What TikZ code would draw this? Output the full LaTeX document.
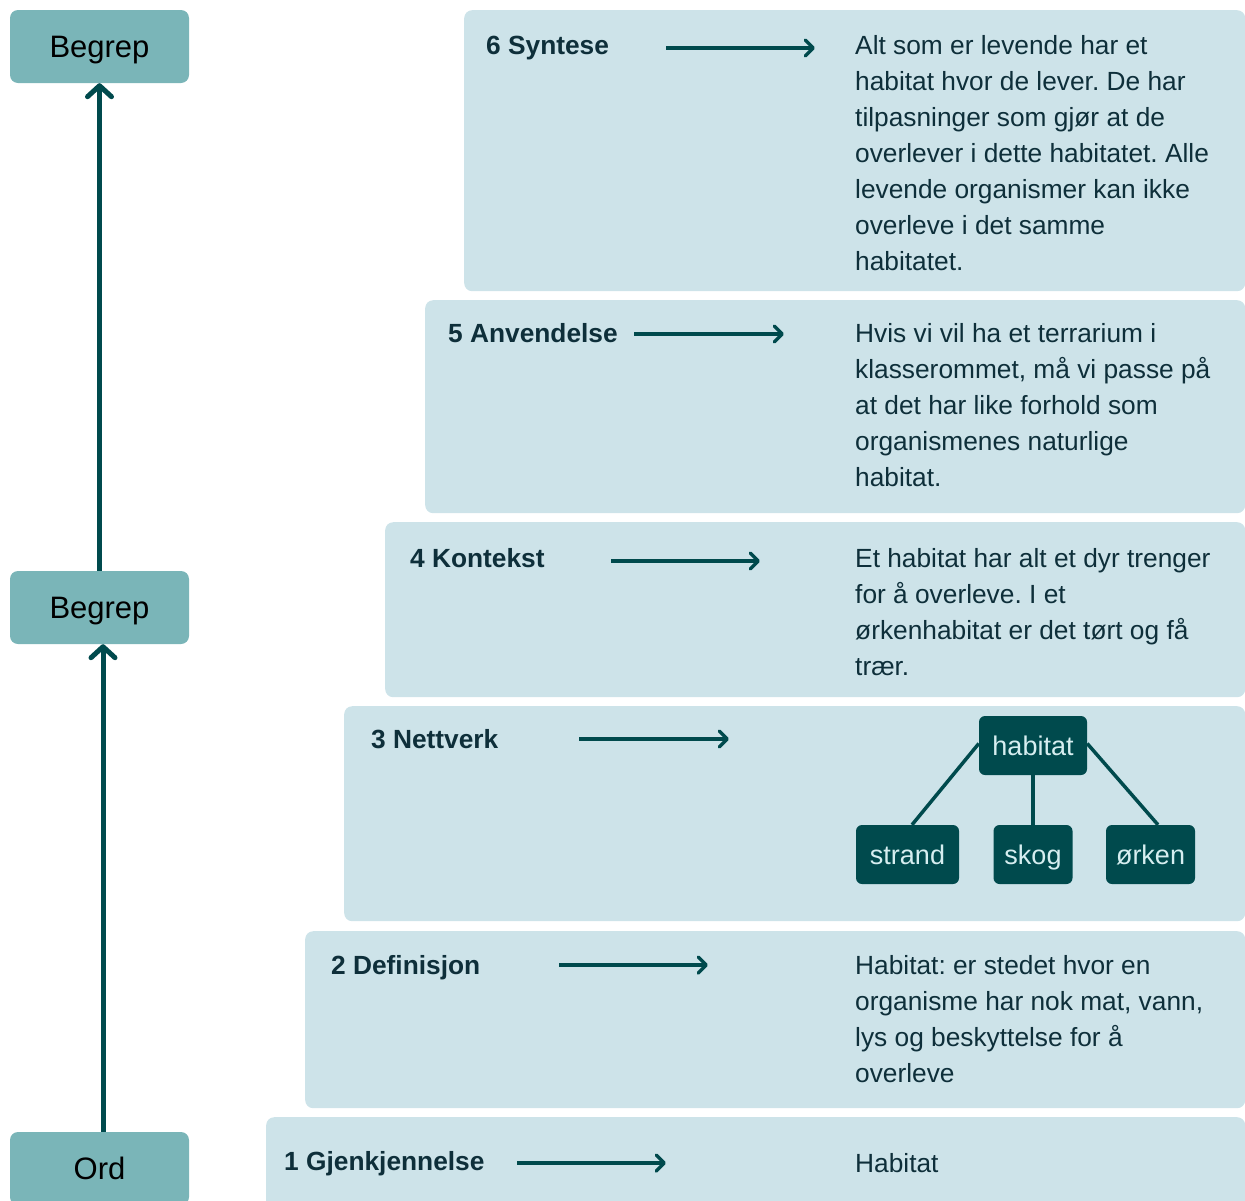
\documentclass[tikz,border=0pt]{standalone}
\usepackage{fontspec}
\setmainfont{Liberation Sans}
\usetikzlibrary{arrows.meta,calc}

\definecolor{panelbg}{HTML}{CDE3E9}
\definecolor{levelbg}{HTML}{7AB5B8}
\definecolor{deepteal}{HTML}{004A4D}
\definecolor{inktext}{HTML}{0E2F3A}
\definecolor{palelabel}{HTML}{D6EEF0}

% stack of lines with a fixed baseline distance; baseline = first line
\newcommand\linestack[1]{\vtop{\baselineskip=36pt\lineskiplimit=-100pt #1}}

\begin{document}
\frenchspacing
\begin{tikzpicture}[x=1pt,y=-1pt,
  panel/.style={fill=panelbg, draw=none, rounded corners=8pt, anchor=north west, inner sep=0pt},
  levelbox/.style={fill=levelbg, draw=none, rounded corners=8pt, minimum width=179pt, minimum height=73pt,
    inner sep=0pt, text height=22pt, text depth=0pt, font=\fontsize{31}{36}\selectfont, text=black},
  steplabel/.style={anchor=base west, inner sep=0pt, font=\fontsize{26.3}{36}\selectfont\bfseries, text=inktext},
  bodytext/.style={anchor=base west, inner sep=0pt, font=\fontsize{26.3}{36}\selectfont, text=inktext},
  netbox/.style={fill=deepteal, draw=none, rounded corners=6pt, minimum height=59pt, inner sep=0pt,
    text height=20pt, text depth=0pt, font=\fontsize{27}{32}\selectfont, text=palelabel},
  netedge/.style={draw=deepteal, line width=3.5pt},
  steparrow/.style={draw=deepteal, line width=3.5pt, -{Straight Barb[length=8pt,width=16pt,round]}},
  climb/.style={draw=deepteal, line width=5pt, -{Straight Barb[length=11pt,width=24pt,round]}},
]
\useasboundingbox (0,0) rectangle (1245,1200);
\clip (0,0) rectangle (1245,1200);

% level panels
\node[panel, minimum width=781pt, minimum height=281pt] (p6) at (464,10) {};
\node[panel, minimum width=820pt, minimum height=213pt] (p5) at (425,300) {};
\node[panel, minimum width=860pt, minimum height=175pt] (p4) at (385,522) {};
\node[panel, minimum width=901pt, minimum height=215pt] (p3) at (344,706) {};
\node[panel, minimum width=940pt, minimum height=177pt] (p2) at (305,931) {};
\node[panel, minimum width=979pt, minimum height=100pt] (p1) at (266,1117) {};

% left column: word to concept
\node[levelbox] (b1) at (99.5,46.5) {Begrep};
\node[levelbox] (b2) at (99.5,607.5) {Begrep};
\node[levelbox] (ord) at (99.5,1168.5) {Ord};
\draw[climb] (b2.north) -- (b1.south);
\draw[climb] ([xshift=3.5pt]ord.north) -- ([xshift=3.5pt]b2.south);

% step labels
\node[steplabel] (l6) at (486,54) {6 Syntese};
\node[steplabel] (l5) at (448,342) {5 Anvendelse};
\node[steplabel] (l4) at (410,567) {4 Kontekst};
\node[steplabel] (l3) at (371,748) {3 Nettverk};
\node[steplabel] (l2) at (331,974) {2 Definisjon};
\node[steplabel] (l1) at (284,1170) {1 Gjenkjennelse};

% step arrows
\coordinate (a6s) at (666,48);  \coordinate (a6e) at (815,48);
\coordinate (a5s) at (634,334); \coordinate (a5e) at (784,334);
\coordinate (a4s) at (611,561); \coordinate (a4e) at (760,561);
\coordinate (a3s) at (579,739); \coordinate (a3e) at (729,739);
\coordinate (a2s) at (559,965); \coordinate (a2e) at (708,965);
\coordinate (a1s) at (517,1163); \coordinate (a1e) at (666,1163);
\draw[steparrow] (a6s) -- (a6e);
\draw[steparrow] (a5s) -- (a5e);
\draw[steparrow] (a4s) -- (a4e);
\draw[steparrow] (a3s) -- (a3e);
\draw[steparrow] (a2s) -- (a2e);
\draw[steparrow] (a1s) -- (a1e);

% step contents
\node[bodytext] (t6) at (855,54) {\linestack{%
  \hbox{Alt som er levende har et}
  \hbox{habitat hvor de lever. De har}
  \hbox{tilpasninger som gjør at de}
  \hbox{overlever i dette habitatet. Alle}
  \hbox{levende organismer kan ikke}
  \hbox{overleve i det samme}
  \hbox{habitatet.}}};
\node[bodytext] (t5) at (855,342) {\linestack{%
  \hbox{Hvis vi vil ha et terrarium i}
  \hbox{klasserommet, må vi passe på}
  \hbox{at det har like forhold som}
  \hbox{organismenes naturlige}
  \hbox{habitat.}}};
\node[bodytext] (t4) at (855,567) {\linestack{%
  \hbox{Et habitat har alt et dyr trenger}
  \hbox{for å overleve. I et}
  \hbox{ørkenhabitat er det tørt og få}
  \hbox{trær.}}};
\node[bodytext] (t2) at (855,974) {\linestack{%
  \hbox{Habitat: er stedet hvor en}
  \hbox{organisme har nok mat, vann,}
  \hbox{lys og beskyttelse for å}
  \hbox{overleve}}};
\node[bodytext] (t1) at (855,1172) {Habitat};

% concept network
\node[netbox, minimum width=108pt] (hab) at (1033,745.5) {habitat};
\node[netbox, minimum width=103pt] (strand) at (907.5,854.5) {strand};
\node[netbox, minimum width=79pt] (skog) at (1033,854.5) {skog};
\node[netbox, minimum width=89pt] (orken) at (1150.5,854.5) {ørken};
\draw[netedge] ([yshift=2pt]hab.west) -- ([xshift=4.5pt]strand.north);
\draw[netedge] (hab.south) -- (skog.north);
\draw[netedge] ([yshift=2pt]hab.east) -- ([xshift=7.5pt]orken.north);
\end{tikzpicture}
\end{document}
